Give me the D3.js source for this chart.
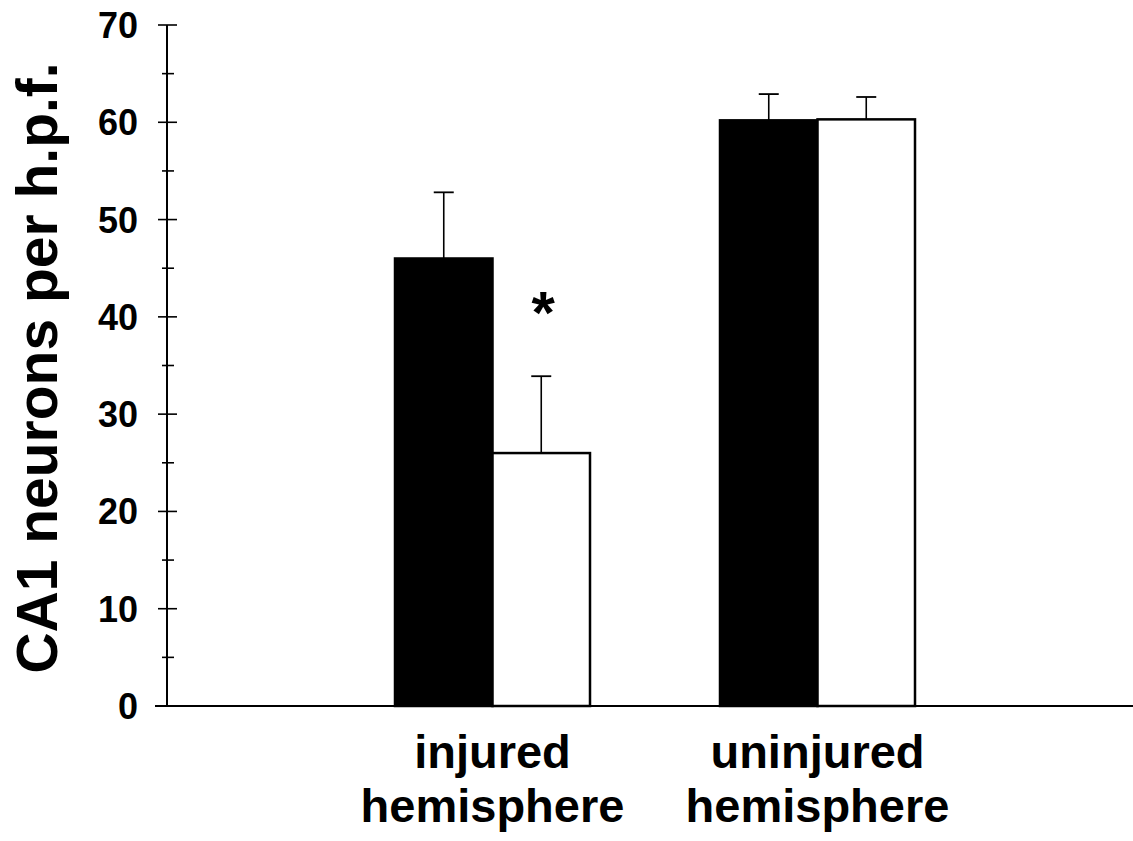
<!DOCTYPE html>
<html lang="en">
<head>
<meta charset="utf-8"/>
<title>CA1 neurons per h.p.f.</title>
<script src="https://cdnjs.cloudflare.com/ajax/libs/d3/7.8.5/d3.min.js"></script>
<style>
  body { margin: 0; background: #fff; }
  text { font-family: "Liberation Sans", Arial, sans-serif; font-weight: bold; fill: #000; }
</style>
</head>
<body>
<div id="chart"></div>
<script>
// data
var categories = ["injured", "uninjured"];
var labelLines = [["injured", "hemisphere"], ["uninjured", "hemisphere"]];
var series = ["black", "white"];
var means = [[46, 26], [60.2, 60.3]];
var errors = [[6.8, 7.9], [2.7, 2.3]];
var majorTicks = [0, 10, 20, 30, 40, 50, 60, 70];
var minorTicks = [5, 15, 25, 35, 45, 55, 65];
var starred = [{cat: "injured", s: 1}];

var W = 1133, H = 841;
var svg = d3.select("#chart").append("svg")
  .attr("width", W).attr("height", H);

var axisX = 167;
var y = d3.scaleLinear().domain([0, 70]).range([706, 25]);
var x0 = d3.scaleBand().domain(categories).range([330, 980])
  .paddingInner(0.4).paddingOuter(0.2);
var x1 = d3.scaleBand().domain(d3.range(series.length)).range([0, x0.bandwidth()]);

// bars
categories.forEach(function(c, i) {
  var g = svg.append("g").attr("transform", "translate(" + x0(c) + ",0)");
  g.selectAll("rect").data(means[i]).enter().append("rect")
    .attr("x", function(d, j) { return x1(j); })
    .attr("y", function(d) { return y(d); })
    .attr("width", x1.bandwidth())
    .attr("height", function(d) { return y(0) - y(d); })
    .attr("fill", function(d, j) { return series[j] == "black" ? "#000" : "#fff"; })
    .attr("stroke", "#000").attr("stroke-width", 2.5);

  // error bars (upper only)
  means[i].forEach(function(m, j) {
    var cx = x1(j) + x1.bandwidth() / 2;
    g.append("line").attr("x1", cx).attr("x2", cx)
      .attr("y1", y(m)).attr("y2", y(m + errors[i][j]))
      .attr("stroke", "#000").attr("stroke-width", 1.6);
    g.append("line").attr("x1", cx - 10).attr("x2", cx + 10)
      .attr("y1", y(m + errors[i][j])).attr("y2", y(m + errors[i][j]))
      .attr("stroke", "#000").attr("stroke-width", 1.8);
  });
});

// significance star
starred.forEach(function(s) {
  var cx = x0(s.cat) + x1(s.s) + x1.bandwidth() / 2;
  svg.append("text").attr("x", cx + 2).attr("y", 333)
    .attr("text-anchor", "middle").style("font-size", "60px").text("*");
});

// axes
svg.append("line").attr("x1", 155).attr("x2", W)
  .attr("y1", y(0)).attr("y2", y(0))
  .attr("stroke", "#000").attr("stroke-width", 2);
svg.append("line").attr("x1", axisX).attr("x2", axisX)
  .attr("y1", y(0)).attr("y2", y(70))
  .attr("stroke", "#000").attr("stroke-width", 2);

svg.selectAll(".major").data(majorTicks).enter().append("line")
  .attr("x1", axisX - 9).attr("x2", axisX + 10)
  .attr("y1", function(d) { return y(d); }).attr("y2", function(d) { return y(d); })
  .attr("stroke", "#000").attr("stroke-width", 1.6);
svg.selectAll(".minor").data(minorTicks).enter().append("line")
  .attr("x1", axisX - 5).attr("x2", axisX + 7)
  .attr("y1", function(d) { return y(d); }).attr("y2", function(d) { return y(d); })
  .attr("stroke", "#000").attr("stroke-width", 1.6);

svg.selectAll(".ticklab").data(majorTicks).enter().append("text")
  .attr("x", 138).attr("y", function(d) { return y(d) + 13; })
  .attr("text-anchor", "end").style("font-size", "36px")
  .text(function(d) { return d; });

// y label
svg.append("text")
  .attr("transform", "translate(57,368) rotate(-90)")
  .attr("text-anchor", "middle").style("font-size", "57px")
  .text("CA1 neurons per h.p.f.");

// category labels
categories.forEach(function(c, i) {
  var cx = x0(c) + x0.bandwidth() / 2;
  labelLines[i].forEach(function(t, k) {
    svg.append("text").attr("x", cx).attr("y", 768 + k * 54)
      .attr("text-anchor", "middle").style("font-size", "47px").text(t);
  });
});
</script>
</body>
</html>
